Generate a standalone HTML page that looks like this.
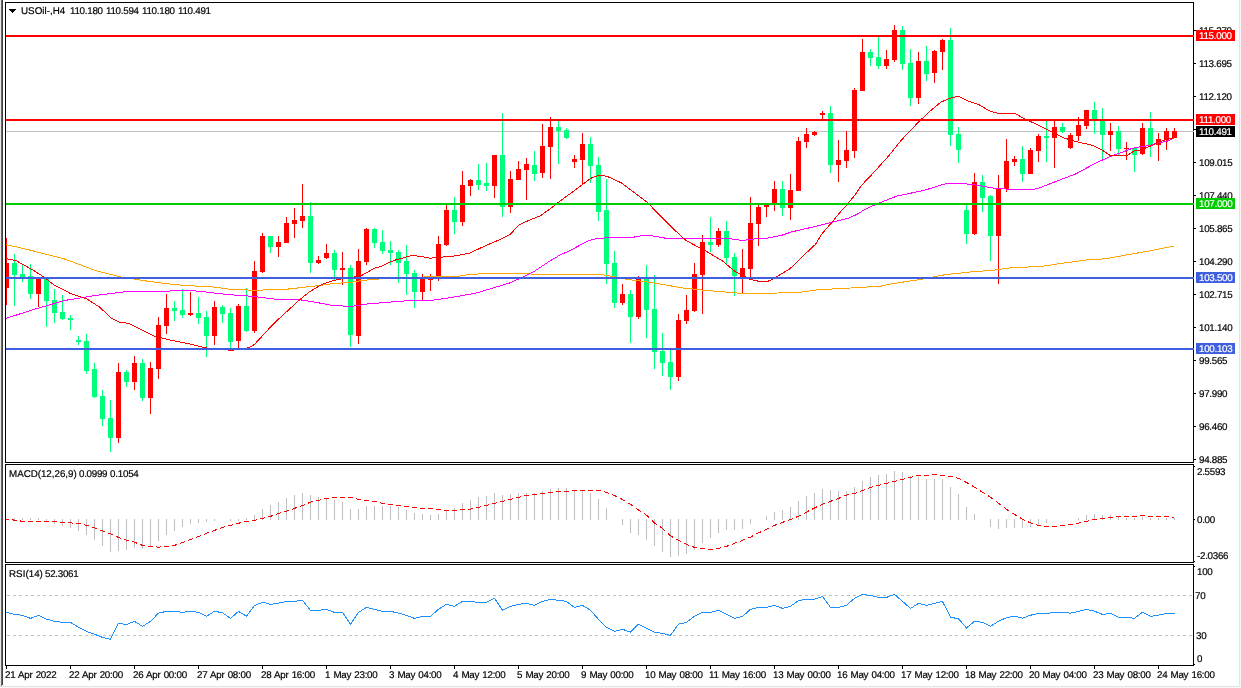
<!DOCTYPE html>
<html><head><meta charset="utf-8"><title>USOil H4</title>
<style>
html,body{margin:0;padding:0;background:#fff;}
body{width:1241px;height:688px;position:relative;overflow:hidden;font-family:"Liberation Sans",sans-serif;}
svg{position:absolute;left:0;top:0;}
#tx{position:absolute;left:0;top:0;width:1241px;height:688px;will-change:transform;}
.t{position:absolute;font-size:9.8px;line-height:12px;white-space:nowrap;color:#000;letter-spacing:-0.28px;transform-origin:0 0;transform:rotate(0.03deg);-webkit-text-stroke:0.2px #000;}
.tl{word-spacing:0.8px;}
.b{position:absolute;left:1196px;width:39px;height:11px;color:#fff;font-size:9.8px;line-height:11px;white-space:nowrap;text-indent:3px;letter-spacing:-0.28px;}
.b span{display:block;-webkit-text-stroke:0.2px #fff;transform-origin:0 0;transform:rotate(0.03deg);}
</style></head><body>
<svg width="1241" height="688" viewBox="0 0 1241 688" shape-rendering="crispEdges">
<defs>
<clipPath id="cm"><rect x="6" y="3" width="1187" height="459"/></clipPath>
<clipPath id="c2"><rect x="6" y="465" width="1187" height="97"/></clipPath>
<clipPath id="cd"><rect x="4" y="465" width="5" height="97"/><rect x="12" y="465" width="5" height="97"/><rect x="20" y="465" width="5" height="97"/><rect x="28" y="465" width="5" height="97"/><rect x="36" y="465" width="5" height="97"/><rect x="44" y="465" width="5" height="97"/><rect x="52" y="465" width="5" height="97"/><rect x="60" y="465" width="5" height="97"/><rect x="68" y="465" width="5" height="97"/><rect x="76" y="465" width="5" height="97"/><rect x="84" y="465" width="5" height="97"/><rect x="92" y="465" width="5" height="97"/><rect x="100" y="465" width="5" height="97"/><rect x="108" y="465" width="5" height="97"/><rect x="116" y="465" width="5" height="97"/><rect x="124" y="465" width="5" height="97"/><rect x="132" y="465" width="5" height="97"/><rect x="140" y="465" width="5" height="97"/><rect x="148" y="465" width="5" height="97"/><rect x="156" y="465" width="5" height="97"/><rect x="164" y="465" width="5" height="97"/><rect x="172" y="465" width="5" height="97"/><rect x="180" y="465" width="5" height="97"/><rect x="188" y="465" width="5" height="97"/><rect x="196" y="465" width="5" height="97"/><rect x="204" y="465" width="5" height="97"/><rect x="212" y="465" width="5" height="97"/><rect x="220" y="465" width="5" height="97"/><rect x="228" y="465" width="5" height="97"/><rect x="236" y="465" width="5" height="97"/><rect x="244" y="465" width="5" height="97"/><rect x="252" y="465" width="5" height="97"/><rect x="260" y="465" width="5" height="97"/><rect x="268" y="465" width="5" height="97"/><rect x="276" y="465" width="5" height="97"/><rect x="284" y="465" width="5" height="97"/><rect x="292" y="465" width="5" height="97"/><rect x="300" y="465" width="5" height="97"/><rect x="308" y="465" width="5" height="97"/><rect x="316" y="465" width="5" height="97"/><rect x="324" y="465" width="5" height="97"/><rect x="332" y="465" width="5" height="97"/><rect x="340" y="465" width="5" height="97"/><rect x="348" y="465" width="5" height="97"/><rect x="356" y="465" width="5" height="97"/><rect x="364" y="465" width="5" height="97"/><rect x="372" y="465" width="5" height="97"/><rect x="380" y="465" width="5" height="97"/><rect x="388" y="465" width="5" height="97"/><rect x="396" y="465" width="5" height="97"/><rect x="404" y="465" width="5" height="97"/><rect x="412" y="465" width="5" height="97"/><rect x="420" y="465" width="5" height="97"/><rect x="428" y="465" width="5" height="97"/><rect x="436" y="465" width="5" height="97"/><rect x="444" y="465" width="5" height="97"/><rect x="452" y="465" width="5" height="97"/><rect x="460" y="465" width="5" height="97"/><rect x="468" y="465" width="5" height="97"/><rect x="476" y="465" width="5" height="97"/><rect x="484" y="465" width="5" height="97"/><rect x="492" y="465" width="5" height="97"/><rect x="500" y="465" width="5" height="97"/><rect x="508" y="465" width="5" height="97"/><rect x="516" y="465" width="5" height="97"/><rect x="524" y="465" width="5" height="97"/><rect x="532" y="465" width="5" height="97"/><rect x="540" y="465" width="5" height="97"/><rect x="548" y="465" width="5" height="97"/><rect x="556" y="465" width="5" height="97"/><rect x="564" y="465" width="5" height="97"/><rect x="572" y="465" width="5" height="97"/><rect x="580" y="465" width="5" height="97"/><rect x="588" y="465" width="5" height="97"/><rect x="596" y="465" width="5" height="97"/><rect x="604" y="465" width="5" height="97"/><rect x="612" y="465" width="5" height="97"/><rect x="620" y="465" width="5" height="97"/><rect x="628" y="465" width="5" height="97"/><rect x="636" y="465" width="5" height="97"/><rect x="644" y="465" width="5" height="97"/><rect x="652" y="465" width="5" height="97"/><rect x="660" y="465" width="5" height="97"/><rect x="668" y="465" width="5" height="97"/><rect x="676" y="465" width="5" height="97"/><rect x="684" y="465" width="5" height="97"/><rect x="692" y="465" width="5" height="97"/><rect x="700" y="465" width="5" height="97"/><rect x="708" y="465" width="5" height="97"/><rect x="716" y="465" width="5" height="97"/><rect x="724" y="465" width="5" height="97"/><rect x="732" y="465" width="5" height="97"/><rect x="740" y="465" width="5" height="97"/><rect x="748" y="465" width="5" height="97"/><rect x="756" y="465" width="5" height="97"/><rect x="764" y="465" width="5" height="97"/><rect x="772" y="465" width="5" height="97"/><rect x="780" y="465" width="5" height="97"/><rect x="788" y="465" width="5" height="97"/><rect x="796" y="465" width="5" height="97"/><rect x="804" y="465" width="5" height="97"/><rect x="812" y="465" width="5" height="97"/><rect x="820" y="465" width="5" height="97"/><rect x="828" y="465" width="5" height="97"/><rect x="836" y="465" width="5" height="97"/><rect x="844" y="465" width="5" height="97"/><rect x="852" y="465" width="5" height="97"/><rect x="860" y="465" width="5" height="97"/><rect x="868" y="465" width="5" height="97"/><rect x="876" y="465" width="5" height="97"/><rect x="884" y="465" width="5" height="97"/><rect x="892" y="465" width="5" height="97"/><rect x="900" y="465" width="5" height="97"/><rect x="908" y="465" width="5" height="97"/><rect x="916" y="465" width="5" height="97"/><rect x="924" y="465" width="5" height="97"/><rect x="932" y="465" width="5" height="97"/><rect x="940" y="465" width="5" height="97"/><rect x="948" y="465" width="5" height="97"/><rect x="956" y="465" width="5" height="97"/><rect x="964" y="465" width="5" height="97"/><rect x="972" y="465" width="5" height="97"/><rect x="980" y="465" width="5" height="97"/><rect x="988" y="465" width="5" height="97"/><rect x="996" y="465" width="5" height="97"/><rect x="1004" y="465" width="5" height="97"/><rect x="1012" y="465" width="5" height="97"/><rect x="1020" y="465" width="5" height="97"/><rect x="1028" y="465" width="5" height="97"/><rect x="1036" y="465" width="5" height="97"/><rect x="1044" y="465" width="5" height="97"/><rect x="1052" y="465" width="5" height="97"/><rect x="1060" y="465" width="5" height="97"/><rect x="1068" y="465" width="5" height="97"/><rect x="1076" y="465" width="5" height="97"/><rect x="1084" y="465" width="5" height="97"/><rect x="1092" y="465" width="5" height="97"/><rect x="1100" y="465" width="5" height="97"/><rect x="1108" y="465" width="5" height="97"/><rect x="1116" y="465" width="5" height="97"/><rect x="1124" y="465" width="5" height="97"/><rect x="1132" y="465" width="5" height="97"/><rect x="1140" y="465" width="5" height="97"/><rect x="1148" y="465" width="5" height="97"/><rect x="1156" y="465" width="5" height="97"/><rect x="1164" y="465" width="5" height="97"/><rect x="1172" y="465" width="5" height="97"/><rect x="1180" y="465" width="5" height="97"/></clipPath>
<clipPath id="c3"><rect x="6" y="565" width="1187" height="100"/></clipPath>
</defs>
<rect x="0" y="0" width="1" height="688" fill="#e8e8e8"/>
<rect x="1" y="0" width="1" height="686" fill="#686868"/>
<rect x="2" y="0" width="1" height="685" fill="#404040"/>
<rect x="1239" y="0" width="1" height="688" fill="#e4e4e4"/>
<rect x="1240" y="0" width="1" height="688" fill="#f6f6f6"/>
<rect x="0" y="686" width="1241" height="1" fill="#e4e4e4"/>
<rect x="0" y="687" width="1241" height="1" fill="#f6f6f6"/>
<g clip-path="url(#cm)">
<rect x="6" y="131" width="1187" height="1" fill="#c0c0c0"/>
<rect x="6" y="238" width="1" height="67" fill="#FF0000"/>
<rect x="4" y="263" width="5" height="25" fill="#FF0000"/>
<rect x="14" y="254" width="1" height="52" fill="#00FF7A"/>
<rect x="12" y="263" width="5" height="12" fill="#00FF7A"/>
<rect x="22" y="264" width="1" height="18" fill="#00FF7A"/>
<rect x="20" y="274" width="5" height="4" fill="#00FF7A"/>
<rect x="30" y="264" width="1" height="35" fill="#00FF7A"/>
<rect x="28" y="276" width="5" height="18" fill="#00FF7A"/>
<rect x="38" y="278" width="1" height="29" fill="#FF0000"/>
<rect x="36" y="278" width="5" height="16" fill="#FF0000"/>
<rect x="46" y="278" width="1" height="49" fill="#00FF7A"/>
<rect x="44" y="278" width="5" height="23" fill="#00FF7A"/>
<rect x="54" y="289" width="1" height="34" fill="#00FF7A"/>
<rect x="52" y="300" width="5" height="13" fill="#00FF7A"/>
<rect x="62" y="295" width="1" height="25" fill="#00FF7A"/>
<rect x="60" y="312" width="5" height="7" fill="#00FF7A"/>
<rect x="70" y="315" width="1" height="15" fill="#00FF7A"/>
<rect x="68" y="318" width="5" height="2" fill="#00FF7A"/>
<rect x="78" y="336" width="1" height="9" fill="#00FF7A"/>
<rect x="76" y="340" width="5" height="2" fill="#00FF7A"/>
<rect x="86" y="334" width="1" height="40" fill="#00FF7A"/>
<rect x="84" y="341" width="5" height="30" fill="#00FF7A"/>
<rect x="94" y="363" width="1" height="35" fill="#00FF7A"/>
<rect x="92" y="369" width="5" height="28" fill="#00FF7A"/>
<rect x="102" y="390" width="1" height="36" fill="#00FF7A"/>
<rect x="100" y="396" width="5" height="23" fill="#00FF7A"/>
<rect x="110" y="400" width="1" height="52" fill="#00FF7A"/>
<rect x="108" y="418" width="5" height="20" fill="#00FF7A"/>
<rect x="118" y="363" width="1" height="80" fill="#FF0000"/>
<rect x="116" y="372" width="5" height="66" fill="#FF0000"/>
<rect x="126" y="370" width="1" height="17" fill="#00FF7A"/>
<rect x="124" y="372" width="5" height="10" fill="#00FF7A"/>
<rect x="134" y="356" width="1" height="34" fill="#FF0000"/>
<rect x="132" y="363" width="5" height="19" fill="#FF0000"/>
<rect x="142" y="359" width="1" height="42" fill="#00FF7A"/>
<rect x="140" y="363" width="5" height="35" fill="#00FF7A"/>
<rect x="150" y="362" width="1" height="52" fill="#FF0000"/>
<rect x="148" y="368" width="5" height="30" fill="#FF0000"/>
<rect x="158" y="317" width="1" height="62" fill="#FF0000"/>
<rect x="156" y="325" width="5" height="44" fill="#FF0000"/>
<rect x="166" y="294" width="1" height="40" fill="#FF0000"/>
<rect x="164" y="308" width="5" height="18" fill="#FF0000"/>
<rect x="174" y="301" width="1" height="20" fill="#00FF7A"/>
<rect x="172" y="308" width="5" height="3" fill="#00FF7A"/>
<rect x="182" y="289" width="1" height="29" fill="#00FF7A"/>
<rect x="180" y="310" width="5" height="5" fill="#00FF7A"/>
<rect x="190" y="292" width="1" height="24" fill="#FF0000"/>
<rect x="188" y="313" width="5" height="2" fill="#FF0000"/>
<rect x="198" y="297" width="1" height="27" fill="#00FF7A"/>
<rect x="196" y="313" width="5" height="5" fill="#00FF7A"/>
<rect x="206" y="311" width="1" height="46" fill="#00FF7A"/>
<rect x="204" y="317" width="5" height="19" fill="#00FF7A"/>
<rect x="214" y="301" width="1" height="44" fill="#FF0000"/>
<rect x="212" y="307" width="5" height="29" fill="#FF0000"/>
<rect x="222" y="305" width="1" height="18" fill="#00FF7A"/>
<rect x="220" y="307" width="5" height="7" fill="#00FF7A"/>
<rect x="230" y="308" width="1" height="40" fill="#00FF7A"/>
<rect x="228" y="313" width="5" height="29" fill="#00FF7A"/>
<rect x="238" y="304" width="1" height="44" fill="#FF0000"/>
<rect x="236" y="306" width="5" height="35" fill="#FF0000"/>
<rect x="246" y="288" width="1" height="44" fill="#00FF7A"/>
<rect x="244" y="306" width="5" height="25" fill="#00FF7A"/>
<rect x="254" y="261" width="1" height="72" fill="#FF0000"/>
<rect x="252" y="271" width="5" height="60" fill="#FF0000"/>
<rect x="262" y="233" width="1" height="40" fill="#FF0000"/>
<rect x="260" y="236" width="5" height="36" fill="#FF0000"/>
<rect x="270" y="236" width="1" height="17" fill="#00FF7A"/>
<rect x="268" y="236" width="5" height="11" fill="#00FF7A"/>
<rect x="278" y="236" width="1" height="21" fill="#FF0000"/>
<rect x="276" y="242" width="5" height="5" fill="#FF0000"/>
<rect x="286" y="217" width="1" height="26" fill="#FF0000"/>
<rect x="284" y="223" width="5" height="20" fill="#FF0000"/>
<rect x="294" y="208" width="1" height="30" fill="#FF0000"/>
<rect x="292" y="220" width="5" height="4" fill="#FF0000"/>
<rect x="302" y="184" width="1" height="44" fill="#FF0000"/>
<rect x="300" y="216" width="5" height="5" fill="#FF0000"/>
<rect x="310" y="202" width="1" height="71" fill="#00FF7A"/>
<rect x="308" y="216" width="5" height="47" fill="#00FF7A"/>
<rect x="318" y="256" width="1" height="8" fill="#FF0000"/>
<rect x="316" y="260" width="5" height="3" fill="#FF0000"/>
<rect x="326" y="244" width="1" height="15" fill="#FF0000"/>
<rect x="324" y="253" width="5" height="5" fill="#FF0000"/>
<rect x="334" y="250" width="1" height="30" fill="#00FF7A"/>
<rect x="332" y="253" width="5" height="17" fill="#00FF7A"/>
<rect x="342" y="252" width="1" height="33" fill="#FF0000"/>
<rect x="340" y="268" width="5" height="2" fill="#FF0000"/>
<rect x="350" y="265" width="1" height="82" fill="#00FF7A"/>
<rect x="348" y="268" width="5" height="67" fill="#00FF7A"/>
<rect x="358" y="249" width="1" height="95" fill="#FF0000"/>
<rect x="356" y="261" width="5" height="75" fill="#FF0000"/>
<rect x="366" y="228" width="1" height="37" fill="#FF0000"/>
<rect x="364" y="229" width="5" height="33" fill="#FF0000"/>
<rect x="374" y="228" width="1" height="20" fill="#00FF7A"/>
<rect x="372" y="229" width="5" height="14" fill="#00FF7A"/>
<rect x="382" y="230" width="1" height="24" fill="#00FF7A"/>
<rect x="380" y="242" width="5" height="9" fill="#00FF7A"/>
<rect x="390" y="241" width="1" height="24" fill="#00FF7A"/>
<rect x="388" y="250" width="5" height="3" fill="#00FF7A"/>
<rect x="398" y="250" width="1" height="33" fill="#00FF7A"/>
<rect x="396" y="252" width="5" height="11" fill="#00FF7A"/>
<rect x="406" y="245" width="1" height="50" fill="#00FF7A"/>
<rect x="404" y="261" width="5" height="13" fill="#00FF7A"/>
<rect x="414" y="270" width="1" height="38" fill="#00FF7A"/>
<rect x="412" y="273" width="5" height="19" fill="#00FF7A"/>
<rect x="422" y="274" width="1" height="26" fill="#FF0000"/>
<rect x="420" y="278" width="5" height="14" fill="#FF0000"/>
<rect x="430" y="274" width="1" height="17" fill="#FF0000"/>
<rect x="428" y="278" width="5" height="2" fill="#FF0000"/>
<rect x="438" y="236" width="1" height="45" fill="#FF0000"/>
<rect x="436" y="244" width="5" height="34" fill="#FF0000"/>
<rect x="446" y="204" width="1" height="42" fill="#FF0000"/>
<rect x="444" y="210" width="5" height="35" fill="#FF0000"/>
<rect x="454" y="197" width="1" height="37" fill="#00FF7A"/>
<rect x="452" y="210" width="5" height="12" fill="#00FF7A"/>
<rect x="462" y="171" width="1" height="55" fill="#FF0000"/>
<rect x="460" y="185" width="5" height="37" fill="#FF0000"/>
<rect x="470" y="179" width="1" height="17" fill="#FF0000"/>
<rect x="468" y="180" width="5" height="6" fill="#FF0000"/>
<rect x="478" y="164" width="1" height="26" fill="#00FF7A"/>
<rect x="476" y="180" width="5" height="5" fill="#00FF7A"/>
<rect x="486" y="163" width="1" height="28" fill="#00FF7A"/>
<rect x="484" y="183" width="5" height="3" fill="#00FF7A"/>
<rect x="494" y="155" width="1" height="43" fill="#FF0000"/>
<rect x="492" y="155" width="5" height="31" fill="#FF0000"/>
<rect x="502" y="113" width="1" height="104" fill="#00FF7A"/>
<rect x="500" y="155" width="5" height="52" fill="#00FF7A"/>
<rect x="510" y="171" width="1" height="42" fill="#FF0000"/>
<rect x="508" y="179" width="5" height="28" fill="#FF0000"/>
<rect x="518" y="161" width="1" height="19" fill="#FF0000"/>
<rect x="516" y="169" width="5" height="11" fill="#FF0000"/>
<rect x="526" y="158" width="1" height="42" fill="#FF0000"/>
<rect x="524" y="164" width="5" height="6" fill="#FF0000"/>
<rect x="534" y="151" width="1" height="30" fill="#00FF7A"/>
<rect x="532" y="165" width="5" height="9" fill="#00FF7A"/>
<rect x="542" y="124" width="1" height="54" fill="#FF0000"/>
<rect x="540" y="146" width="5" height="27" fill="#FF0000"/>
<rect x="550" y="117" width="1" height="62" fill="#FF0000"/>
<rect x="548" y="127" width="5" height="20" fill="#FF0000"/>
<rect x="558" y="121" width="1" height="43" fill="#00FF7A"/>
<rect x="556" y="127" width="5" height="4" fill="#00FF7A"/>
<rect x="566" y="128" width="1" height="11" fill="#00FF7A"/>
<rect x="564" y="130" width="5" height="8" fill="#00FF7A"/>
<rect x="574" y="155" width="1" height="13" fill="#FF0000"/>
<rect x="572" y="159" width="5" height="3" fill="#FF0000"/>
<rect x="582" y="133" width="1" height="52" fill="#FF0000"/>
<rect x="580" y="144" width="5" height="16" fill="#FF0000"/>
<rect x="590" y="137" width="1" height="46" fill="#00FF7A"/>
<rect x="588" y="144" width="5" height="22" fill="#00FF7A"/>
<rect x="598" y="157" width="1" height="64" fill="#00FF7A"/>
<rect x="596" y="165" width="5" height="47" fill="#00FF7A"/>
<rect x="606" y="179" width="1" height="105" fill="#00FF7A"/>
<rect x="604" y="210" width="5" height="54" fill="#00FF7A"/>
<rect x="614" y="251" width="1" height="57" fill="#00FF7A"/>
<rect x="612" y="263" width="5" height="40" fill="#00FF7A"/>
<rect x="622" y="284" width="1" height="21" fill="#FF0000"/>
<rect x="620" y="294" width="5" height="9" fill="#FF0000"/>
<rect x="630" y="290" width="1" height="53" fill="#00FF7A"/>
<rect x="628" y="294" width="5" height="23" fill="#00FF7A"/>
<rect x="638" y="276" width="1" height="43" fill="#FF0000"/>
<rect x="636" y="278" width="5" height="39" fill="#FF0000"/>
<rect x="646" y="265" width="1" height="73" fill="#00FF7A"/>
<rect x="644" y="279" width="5" height="31" fill="#00FF7A"/>
<rect x="654" y="275" width="1" height="94" fill="#00FF7A"/>
<rect x="652" y="309" width="5" height="43" fill="#00FF7A"/>
<rect x="662" y="333" width="1" height="43" fill="#00FF7A"/>
<rect x="660" y="351" width="5" height="12" fill="#00FF7A"/>
<rect x="670" y="348" width="1" height="42" fill="#00FF7A"/>
<rect x="668" y="362" width="5" height="15" fill="#00FF7A"/>
<rect x="678" y="314" width="1" height="67" fill="#FF0000"/>
<rect x="676" y="320" width="5" height="57" fill="#FF0000"/>
<rect x="686" y="295" width="1" height="29" fill="#FF0000"/>
<rect x="684" y="310" width="5" height="11" fill="#FF0000"/>
<rect x="694" y="263" width="1" height="49" fill="#FF0000"/>
<rect x="692" y="274" width="5" height="37" fill="#FF0000"/>
<rect x="702" y="235" width="1" height="79" fill="#FF0000"/>
<rect x="700" y="242" width="5" height="33" fill="#FF0000"/>
<rect x="710" y="217" width="1" height="35" fill="#00FF7A"/>
<rect x="708" y="242" width="5" height="3" fill="#00FF7A"/>
<rect x="718" y="228" width="1" height="19" fill="#FF0000"/>
<rect x="716" y="231" width="5" height="14" fill="#FF0000"/>
<rect x="726" y="221" width="1" height="43" fill="#00FF7A"/>
<rect x="724" y="231" width="5" height="27" fill="#00FF7A"/>
<rect x="734" y="253" width="1" height="43" fill="#00FF7A"/>
<rect x="732" y="257" width="5" height="19" fill="#00FF7A"/>
<rect x="742" y="249" width="1" height="45" fill="#FF0000"/>
<rect x="740" y="268" width="5" height="9" fill="#FF0000"/>
<rect x="750" y="197" width="1" height="82" fill="#FF0000"/>
<rect x="748" y="223" width="5" height="46" fill="#FF0000"/>
<rect x="758" y="205" width="1" height="41" fill="#FF0000"/>
<rect x="756" y="207" width="5" height="17" fill="#FF0000"/>
<rect x="766" y="204" width="1" height="13" fill="#FF0000"/>
<rect x="764" y="204" width="5" height="3" fill="#FF0000"/>
<rect x="774" y="181" width="1" height="30" fill="#FF0000"/>
<rect x="772" y="189" width="5" height="16" fill="#FF0000"/>
<rect x="782" y="181" width="1" height="35" fill="#00FF7A"/>
<rect x="780" y="189" width="5" height="19" fill="#00FF7A"/>
<rect x="790" y="174" width="1" height="46" fill="#FF0000"/>
<rect x="788" y="190" width="5" height="18" fill="#FF0000"/>
<rect x="798" y="137" width="1" height="54" fill="#FF0000"/>
<rect x="796" y="141" width="5" height="50" fill="#FF0000"/>
<rect x="806" y="128" width="1" height="20" fill="#FF0000"/>
<rect x="804" y="134" width="5" height="8" fill="#FF0000"/>
<rect x="814" y="131" width="1" height="5" fill="#FF0000"/>
<rect x="812" y="132" width="5" height="3" fill="#FF0000"/>
<rect x="822" y="111" width="1" height="8" fill="#FF0000"/>
<rect x="820" y="113" width="5" height="2" fill="#FF0000"/>
<rect x="830" y="106" width="1" height="67" fill="#00FF7A"/>
<rect x="828" y="113" width="5" height="52" fill="#00FF7A"/>
<rect x="838" y="140" width="1" height="42" fill="#FF0000"/>
<rect x="836" y="160" width="5" height="5" fill="#FF0000"/>
<rect x="846" y="131" width="1" height="37" fill="#FF0000"/>
<rect x="844" y="150" width="5" height="11" fill="#FF0000"/>
<rect x="854" y="88" width="1" height="70" fill="#FF0000"/>
<rect x="852" y="90" width="5" height="61" fill="#FF0000"/>
<rect x="862" y="39" width="1" height="52" fill="#FF0000"/>
<rect x="860" y="52" width="5" height="39" fill="#FF0000"/>
<rect x="870" y="49" width="1" height="17" fill="#00FF7A"/>
<rect x="868" y="52" width="5" height="6" fill="#00FF7A"/>
<rect x="878" y="37" width="1" height="32" fill="#00FF7A"/>
<rect x="876" y="57" width="5" height="9" fill="#00FF7A"/>
<rect x="886" y="50" width="1" height="19" fill="#FF0000"/>
<rect x="884" y="59" width="5" height="7" fill="#FF0000"/>
<rect x="894" y="25" width="1" height="37" fill="#FF0000"/>
<rect x="892" y="30" width="5" height="30" fill="#FF0000"/>
<rect x="902" y="26" width="1" height="44" fill="#00FF7A"/>
<rect x="900" y="30" width="5" height="34" fill="#00FF7A"/>
<rect x="910" y="49" width="1" height="57" fill="#00FF7A"/>
<rect x="908" y="63" width="5" height="35" fill="#00FF7A"/>
<rect x="918" y="52" width="1" height="52" fill="#FF0000"/>
<rect x="916" y="61" width="5" height="37" fill="#FF0000"/>
<rect x="926" y="46" width="1" height="35" fill="#00FF7A"/>
<rect x="924" y="61" width="5" height="13" fill="#00FF7A"/>
<rect x="934" y="50" width="1" height="33" fill="#FF0000"/>
<rect x="932" y="51" width="5" height="22" fill="#FF0000"/>
<rect x="942" y="39" width="1" height="31" fill="#FF0000"/>
<rect x="940" y="40" width="5" height="12" fill="#FF0000"/>
<rect x="950" y="28" width="1" height="118" fill="#00FF7A"/>
<rect x="948" y="40" width="5" height="95" fill="#00FF7A"/>
<rect x="958" y="127" width="1" height="36" fill="#00FF7A"/>
<rect x="956" y="134" width="5" height="16" fill="#00FF7A"/>
<rect x="966" y="204" width="1" height="40" fill="#00FF7A"/>
<rect x="964" y="210" width="5" height="24" fill="#00FF7A"/>
<rect x="974" y="173" width="1" height="62" fill="#FF0000"/>
<rect x="972" y="182" width="5" height="52" fill="#FF0000"/>
<rect x="982" y="175" width="1" height="37" fill="#00FF7A"/>
<rect x="980" y="182" width="5" height="16" fill="#00FF7A"/>
<rect x="990" y="195" width="1" height="66" fill="#00FF7A"/>
<rect x="988" y="196" width="5" height="40" fill="#00FF7A"/>
<rect x="998" y="175" width="1" height="109" fill="#FF0000"/>
<rect x="996" y="189" width="5" height="47" fill="#FF0000"/>
<rect x="1006" y="139" width="1" height="53" fill="#FF0000"/>
<rect x="1004" y="161" width="5" height="28" fill="#FF0000"/>
<rect x="1014" y="156" width="1" height="10" fill="#FF0000"/>
<rect x="1012" y="159" width="5" height="3" fill="#FF0000"/>
<rect x="1022" y="146" width="1" height="36" fill="#00FF7A"/>
<rect x="1020" y="159" width="5" height="15" fill="#00FF7A"/>
<rect x="1030" y="148" width="1" height="26" fill="#FF0000"/>
<rect x="1028" y="150" width="5" height="24" fill="#FF0000"/>
<rect x="1038" y="134" width="1" height="28" fill="#FF0000"/>
<rect x="1036" y="136" width="5" height="15" fill="#FF0000"/>
<rect x="1046" y="121" width="1" height="41" fill="#00FF7A"/>
<rect x="1044" y="136" width="5" height="2" fill="#00FF7A"/>
<rect x="1054" y="121" width="1" height="47" fill="#FF0000"/>
<rect x="1052" y="127" width="5" height="11" fill="#FF0000"/>
<rect x="1062" y="123" width="1" height="10" fill="#00FF7A"/>
<rect x="1060" y="127" width="5" height="5" fill="#00FF7A"/>
<rect x="1070" y="133" width="1" height="16" fill="#FF0000"/>
<rect x="1068" y="135" width="5" height="13" fill="#FF0000"/>
<rect x="1078" y="117" width="1" height="24" fill="#FF0000"/>
<rect x="1076" y="125" width="5" height="11" fill="#FF0000"/>
<rect x="1086" y="110" width="1" height="19" fill="#FF0000"/>
<rect x="1084" y="110" width="5" height="16" fill="#FF0000"/>
<rect x="1094" y="102" width="1" height="32" fill="#00FF7A"/>
<rect x="1092" y="110" width="5" height="11" fill="#00FF7A"/>
<rect x="1102" y="108" width="1" height="52" fill="#00FF7A"/>
<rect x="1100" y="120" width="5" height="15" fill="#00FF7A"/>
<rect x="1110" y="123" width="1" height="28" fill="#FF0000"/>
<rect x="1108" y="131" width="5" height="4" fill="#FF0000"/>
<rect x="1118" y="126" width="1" height="29" fill="#00FF7A"/>
<rect x="1116" y="131" width="5" height="18" fill="#00FF7A"/>
<rect x="1126" y="142" width="1" height="18" fill="#FF0000"/>
<rect x="1124" y="148" width="5" height="1" fill="#FF0000"/>
<rect x="1134" y="147" width="1" height="25" fill="#00FF7A"/>
<rect x="1132" y="148" width="5" height="7" fill="#00FF7A"/>
<rect x="1142" y="123" width="1" height="32" fill="#FF0000"/>
<rect x="1140" y="128" width="5" height="26" fill="#FF0000"/>
<rect x="1150" y="112" width="1" height="45" fill="#00FF7A"/>
<rect x="1148" y="128" width="5" height="17" fill="#00FF7A"/>
<rect x="1158" y="133" width="1" height="28" fill="#FF0000"/>
<rect x="1156" y="139" width="5" height="6" fill="#FF0000"/>
<rect x="1166" y="128" width="1" height="22" fill="#FF0000"/>
<rect x="1164" y="131" width="5" height="9" fill="#FF0000"/>
<rect x="1174" y="128" width="1" height="10" fill="#FF0000"/>
<rect x="1172" y="131" width="5" height="7" fill="#FF0000"/>
</g>
<g clip-path="url(#cm)">
<polyline points="6,244.5 32,250.6 64.5,259 96.8,271 121,277 145,280.8 161,283 177,284.8 200,286.3 211,286.8 230,289.2 254.5,290.3 286.8,289.2 303,287.4 319,285.5 335,283.4 351,282.3 360.6,280.8 369.7,279.7 378,279.3 382,278.3 422,277.5 426,276.4 457.3,276.4 465.7,275 481.8,273.7 500,273.3 530,273.5 533,274.7 580,274.7 602,274.7 612,276.3 628,279.5 650.6,282.4 683,288 707,290.5 739,293.2 770,293.4 777.7,293 800,292.3 818,289.8 840.6,288.5 856.8,287.7 881,286.1 894,283.4 921.3,279.4 937.4,276.1 947,274.4 960,273.2 966,272.3 993.5,270.2 1011.3,267.7 1040.3,266.5 1063,263.2 1090.3,259.4 1104.8,258.9 1127.4,254.8 1150,250.8 1174,246" fill="none" stroke="#FFA500" stroke-width="1" />
<polyline points="6,318.4 32,310 64.5,300.5 96.8,295.3 129,291.3 161,291.8 182,290 200,291.3 211,292.7 230,294.7 254.5,296.5 275.5,299.2 299.7,299.7 319,302.9 332,305.3 351,306.5 367.4,304 390,302.1 396,301.5 412,300.5 433,300.2 452.6,297.3 476.8,292.9 493,288 509,283.2 522,277.6 534.8,271 549,261.5 560.6,254.7 570,250.6 579.7,245.3 589.4,240.5 597.4,238.4 610,237.6 633,237.3 644,235.2 650.6,235.6 666.8,238.4 699,238.4 731,238.9 742.6,240.5 750.6,239.2 767,238.2 782.6,235 792,231.8 811.6,227.3 832.6,222.1 848,218.4 856.8,214.4 864.8,209.5 874.5,205 881,202.3 897,196 921.3,191 934.2,187.4 942,184.5 948.7,183.4 963,183.5 979,185.5 995,188.4 1014.5,189.5 1033.9,189.2 1040.3,187.6 1054.8,181.9 1075.8,173.9 1095,163.4 1111.3,156.1 1121.6,152.5 1131.3,148.7 1138,147.2 1147.7,145.8 1156.4,143.4 1167,141.2 1174.3,138" fill="none" stroke="#FF00FF" stroke-width="1" />
<polyline points="6,258.7 16,260.6 32,269.5 43.5,276.8 55,285.6 71,293.7 87,299 100,307.4 111,318 119,322 129,323.5 140,329 155,336.5 172.6,340.5 190,343.9 204.5,347.6 215,349.5 228,350 234,350 243,349 249,347.6 254.5,344.4 273.9,323.4 282.7,315.3 299.7,299.7 309.4,291.9 322,284.4 332,281 340.8,279 351,277.5 361,275.8 375.5,267.7 380,266.8 390,262 396,259.8 412,255.5 420.3,256.3 430,258.2 444.5,256.9 455.8,255.8 470,253 484.8,246 502.6,238.4 510.6,234 518.7,225 525,222 541,215.5 554,205.8 557.4,203 570,193.8 582,185 591,178.2 599,175.3 607,176.3 621.6,183 634.5,192.7 647.4,202.4 660.3,216 673,228.6 686,240.5 697.4,246.6 708.7,252.6 723.2,261.5 734.5,271.1 741,274.7 750.6,279.5 760.3,281.6 767,281.6 773,279.2 777,276.5 789.8,268.9 802.7,256.3 815.6,244.2 822,233.7 832.6,221.6 839,213.5 848,203.5 855,195 861.6,185.3 874.5,171.6 889,155.5 902,139.4 910,131 919.7,120.8 922.9,117.9 931,110.3 940.6,102.3 948.7,98.7 958,96.1 967.7,101 979,104.8 990.3,111.3 998.4,113.4 1015.3,113.4 1024,118.7 1033.9,123 1050,131 1063,137.6 1075.8,141.6 1092.6,145.3 1101.3,149.6 1110,155.4 1127.4,155.4 1134,150.9 1140,150.1 1147.7,147.2 1153.5,144.8 1160.3,141.4 1167,139.5 1174.3,137.6" fill="none" stroke="#FF0000" stroke-width="1" />
</g>
<rect x="6" y="35" width="1187" height="2" fill="#ff0000"/>
<rect x="6" y="119" width="1187" height="2" fill="#ff0000"/>
<rect x="6" y="203" width="1187" height="2" fill="#00cc00"/>
<rect x="6" y="277" width="1187" height="2" fill="#3f5fdf"/>
<rect x="6" y="348" width="1187" height="2" fill="#3f5fdf"/>
<g clip-path="url(#c2)">
<rect x="14" y="518" width="1" height="2" fill="#c0c0c0"/>
<rect x="22" y="518" width="1" height="2" fill="#c0c0c0"/>
<rect x="30" y="518" width="1" height="2" fill="#c0c0c0"/>
<rect x="38" y="518" width="1" height="2" fill="#c0c0c0"/>
<rect x="46" y="519" width="1" height="2" fill="#c0c0c0"/>
<rect x="54" y="519" width="1" height="5" fill="#c0c0c0"/>
<rect x="62" y="519" width="1" height="7" fill="#c0c0c0"/>
<rect x="70" y="519" width="1" height="9" fill="#c0c0c0"/>
<rect x="78" y="519" width="1" height="12" fill="#c0c0c0"/>
<rect x="86" y="519" width="1" height="16" fill="#c0c0c0"/>
<rect x="94" y="519" width="1" height="21" fill="#c0c0c0"/>
<rect x="102" y="519" width="1" height="27" fill="#c0c0c0"/>
<rect x="110" y="519" width="1" height="33" fill="#c0c0c0"/>
<rect x="118" y="519" width="1" height="32" fill="#c0c0c0"/>
<rect x="126" y="519" width="1" height="31" fill="#c0c0c0"/>
<rect x="134" y="519" width="1" height="29" fill="#c0c0c0"/>
<rect x="142" y="519" width="1" height="30" fill="#c0c0c0"/>
<rect x="150" y="519" width="1" height="28" fill="#c0c0c0"/>
<rect x="158" y="519" width="1" height="22" fill="#c0c0c0"/>
<rect x="166" y="519" width="1" height="16" fill="#c0c0c0"/>
<rect x="174" y="519" width="1" height="12" fill="#c0c0c0"/>
<rect x="182" y="519" width="1" height="8" fill="#c0c0c0"/>
<rect x="190" y="519" width="1" height="5" fill="#c0c0c0"/>
<rect x="198" y="519" width="1" height="4" fill="#c0c0c0"/>
<rect x="206" y="519" width="1" height="3" fill="#c0c0c0"/>
<rect x="214" y="519" width="1" height="2" fill="#c0c0c0"/>
<rect x="230" y="519" width="1" height="2" fill="#c0c0c0"/>
<rect x="238" y="519" width="1" height="2" fill="#c0c0c0"/>
<rect x="246" y="518" width="1" height="2" fill="#c0c0c0"/>
<rect x="254" y="515" width="1" height="5" fill="#c0c0c0"/>
<rect x="262" y="509" width="1" height="11" fill="#c0c0c0"/>
<rect x="270" y="505" width="1" height="15" fill="#c0c0c0"/>
<rect x="278" y="502" width="1" height="18" fill="#c0c0c0"/>
<rect x="286" y="498" width="1" height="22" fill="#c0c0c0"/>
<rect x="294" y="495" width="1" height="25" fill="#c0c0c0"/>
<rect x="302" y="493" width="1" height="27" fill="#c0c0c0"/>
<rect x="310" y="495" width="1" height="25" fill="#c0c0c0"/>
<rect x="318" y="497" width="1" height="23" fill="#c0c0c0"/>
<rect x="326" y="498" width="1" height="22" fill="#c0c0c0"/>
<rect x="334" y="500" width="1" height="20" fill="#c0c0c0"/>
<rect x="342" y="502" width="1" height="18" fill="#c0c0c0"/>
<rect x="350" y="509" width="1" height="11" fill="#c0c0c0"/>
<rect x="358" y="509" width="1" height="11" fill="#c0c0c0"/>
<rect x="366" y="506" width="1" height="14" fill="#c0c0c0"/>
<rect x="374" y="506" width="1" height="14" fill="#c0c0c0"/>
<rect x="382" y="506" width="1" height="14" fill="#c0c0c0"/>
<rect x="390" y="506" width="1" height="14" fill="#c0c0c0"/>
<rect x="398" y="507" width="1" height="13" fill="#c0c0c0"/>
<rect x="406" y="510" width="1" height="10" fill="#c0c0c0"/>
<rect x="414" y="513" width="1" height="7" fill="#c0c0c0"/>
<rect x="422" y="514" width="1" height="6" fill="#c0c0c0"/>
<rect x="430" y="515" width="1" height="5" fill="#c0c0c0"/>
<rect x="438" y="514" width="1" height="6" fill="#c0c0c0"/>
<rect x="446" y="511" width="1" height="9" fill="#c0c0c0"/>
<rect x="454" y="508" width="1" height="12" fill="#c0c0c0"/>
<rect x="462" y="503" width="1" height="17" fill="#c0c0c0"/>
<rect x="470" y="500" width="1" height="20" fill="#c0c0c0"/>
<rect x="478" y="497" width="1" height="23" fill="#c0c0c0"/>
<rect x="486" y="496" width="1" height="24" fill="#c0c0c0"/>
<rect x="494" y="493" width="1" height="27" fill="#c0c0c0"/>
<rect x="502" y="495" width="1" height="25" fill="#c0c0c0"/>
<rect x="510" y="494" width="1" height="26" fill="#c0c0c0"/>
<rect x="518" y="493" width="1" height="27" fill="#c0c0c0"/>
<rect x="526" y="493" width="1" height="27" fill="#c0c0c0"/>
<rect x="534" y="493" width="1" height="27" fill="#c0c0c0"/>
<rect x="542" y="491" width="1" height="29" fill="#c0c0c0"/>
<rect x="550" y="489" width="1" height="31" fill="#c0c0c0"/>
<rect x="558" y="488" width="1" height="32" fill="#c0c0c0"/>
<rect x="566" y="488" width="1" height="32" fill="#c0c0c0"/>
<rect x="574" y="490" width="1" height="30" fill="#c0c0c0"/>
<rect x="582" y="491" width="1" height="29" fill="#c0c0c0"/>
<rect x="590" y="493" width="1" height="27" fill="#c0c0c0"/>
<rect x="598" y="499" width="1" height="21" fill="#c0c0c0"/>
<rect x="606" y="508" width="1" height="12" fill="#c0c0c0"/>
<rect x="622" y="519" width="1" height="6" fill="#c0c0c0"/>
<rect x="630" y="519" width="1" height="14" fill="#c0c0c0"/>
<rect x="638" y="519" width="1" height="16" fill="#c0c0c0"/>
<rect x="646" y="519" width="1" height="21" fill="#c0c0c0"/>
<rect x="654" y="519" width="1" height="27" fill="#c0c0c0"/>
<rect x="662" y="519" width="1" height="33" fill="#c0c0c0"/>
<rect x="670" y="519" width="1" height="38" fill="#c0c0c0"/>
<rect x="678" y="519" width="1" height="37" fill="#c0c0c0"/>
<rect x="686" y="519" width="1" height="35" fill="#c0c0c0"/>
<rect x="694" y="519" width="1" height="31" fill="#c0c0c0"/>
<rect x="702" y="519" width="1" height="24" fill="#c0c0c0"/>
<rect x="710" y="519" width="1" height="19" fill="#c0c0c0"/>
<rect x="718" y="519" width="1" height="14" fill="#c0c0c0"/>
<rect x="726" y="519" width="1" height="11" fill="#c0c0c0"/>
<rect x="734" y="519" width="1" height="11" fill="#c0c0c0"/>
<rect x="742" y="519" width="1" height="10" fill="#c0c0c0"/>
<rect x="750" y="519" width="1" height="5" fill="#c0c0c0"/>
<rect x="766" y="516" width="1" height="4" fill="#c0c0c0"/>
<rect x="774" y="512" width="1" height="8" fill="#c0c0c0"/>
<rect x="782" y="510" width="1" height="10" fill="#c0c0c0"/>
<rect x="790" y="507" width="1" height="13" fill="#c0c0c0"/>
<rect x="798" y="501" width="1" height="19" fill="#c0c0c0"/>
<rect x="806" y="496" width="1" height="24" fill="#c0c0c0"/>
<rect x="814" y="493" width="1" height="27" fill="#c0c0c0"/>
<rect x="822" y="489" width="1" height="31" fill="#c0c0c0"/>
<rect x="830" y="490" width="1" height="30" fill="#c0c0c0"/>
<rect x="838" y="491" width="1" height="29" fill="#c0c0c0"/>
<rect x="846" y="491" width="1" height="29" fill="#c0c0c0"/>
<rect x="854" y="487" width="1" height="33" fill="#c0c0c0"/>
<rect x="862" y="481" width="1" height="39" fill="#c0c0c0"/>
<rect x="870" y="477" width="1" height="43" fill="#c0c0c0"/>
<rect x="878" y="475" width="1" height="45" fill="#c0c0c0"/>
<rect x="886" y="474" width="1" height="46" fill="#c0c0c0"/>
<rect x="894" y="471" width="1" height="49" fill="#c0c0c0"/>
<rect x="902" y="472" width="1" height="48" fill="#c0c0c0"/>
<rect x="910" y="476" width="1" height="44" fill="#c0c0c0"/>
<rect x="918" y="477" width="1" height="43" fill="#c0c0c0"/>
<rect x="926" y="479" width="1" height="41" fill="#c0c0c0"/>
<rect x="934" y="479" width="1" height="41" fill="#c0c0c0"/>
<rect x="942" y="479" width="1" height="41" fill="#c0c0c0"/>
<rect x="950" y="487" width="1" height="33" fill="#c0c0c0"/>
<rect x="958" y="494" width="1" height="26" fill="#c0c0c0"/>
<rect x="966" y="507" width="1" height="13" fill="#c0c0c0"/>
<rect x="974" y="514" width="1" height="6" fill="#c0c0c0"/>
<rect x="990" y="519" width="1" height="8" fill="#c0c0c0"/>
<rect x="998" y="519" width="1" height="10" fill="#c0c0c0"/>
<rect x="1006" y="519" width="1" height="9" fill="#c0c0c0"/>
<rect x="1014" y="519" width="1" height="9" fill="#c0c0c0"/>
<rect x="1022" y="519" width="1" height="9" fill="#c0c0c0"/>
<rect x="1030" y="519" width="1" height="8" fill="#c0c0c0"/>
<rect x="1038" y="519" width="1" height="6" fill="#c0c0c0"/>
<rect x="1046" y="519" width="1" height="4" fill="#c0c0c0"/>
<rect x="1078" y="518" width="1" height="2" fill="#c0c0c0"/>
<rect x="1086" y="515" width="1" height="5" fill="#c0c0c0"/>
<rect x="1094" y="514" width="1" height="6" fill="#c0c0c0"/>
<rect x="1102" y="515" width="1" height="5" fill="#c0c0c0"/>
<rect x="1110" y="515" width="1" height="5" fill="#c0c0c0"/>
<rect x="1118" y="517" width="1" height="3" fill="#c0c0c0"/>
<rect x="1126" y="518" width="1" height="2" fill="#c0c0c0"/>
<rect x="1134" y="518" width="1" height="2" fill="#c0c0c0"/>
<rect x="1142" y="517" width="1" height="3" fill="#c0c0c0"/>
<rect x="1150" y="518" width="1" height="2" fill="#c0c0c0"/>
<rect x="1158" y="518" width="1" height="2" fill="#c0c0c0"/>
<rect x="1166" y="518" width="1" height="2" fill="#c0c0c0"/>
<rect x="1174" y="518" width="1" height="2" fill="#c0c0c0"/>
</g>
<g clip-path="url(#cd)">
<polyline points="6.5,519.3 14.5,520.1 22.5,521.3 30.5,521.3 38.5,521.4 46.5,521.4 54.5,521.4 62.5,522.4 70.5,522.9 78.5,523.4 86.5,525.3 94.5,527.7 102.5,530.9 110.5,533.8 118.5,537.4 126.5,540.3 134.5,542.2 142.5,545.4 150.5,546.4 158.5,547.2 166.5,546.4 174.5,545.4 182.5,542.5 190.5,539.5 198.5,536.6 206.5,533.3 214.5,530.4 222.5,527.4 230.5,525.3 238.5,523.2 246.5,521.6 254.5,520.5 262.5,518.4 270.5,516.4 278.5,513.5 286.5,511.3 294.5,508.4 302.5,505.5 310.5,502.2 318.5,500.3 326.5,498.4 334.5,497.4 342.5,497.4 350.5,497.4 358.5,499.5 366.5,500.5 374.5,501.3 382.5,503.4 390.5,504.3 398.5,505.5 406.5,506.4 414.5,507.4 422.5,508.5 430.5,508.5 438.5,509.5 446.5,510.5 454.5,510.5 462.5,509.5 470.5,509.2 478.5,507.4 486.5,505.5 494.5,503.4 502.5,501.4 510.5,499.5 518.5,497.4 526.5,495.5 534.5,494.5 542.5,493.4 550.5,492.4 558.5,491.4 566.5,491.4 574.5,490.5 582.5,490.5 590.5,490.5 598.5,490.5 606.5,492.4 614.5,495.5 622.5,499.5 630.5,504.3 638.5,510 646.5,515.1 654.5,522.9 662.5,528.5 670.5,535.8 678.5,540.3 686.5,544.3 694.5,547.4 702.5,548.3 710.5,549.3 718.5,548.3 726.5,546.4 734.5,543.3 742.5,540.3 750.5,537.1 758.5,532.9 766.5,529.2 774.5,525.4 782.5,522.4 790.5,519.5 798.5,516.2 806.5,512.1 814.5,508 822.5,504.2 830.5,501.4 838.5,498.4 846.5,495.1 854.5,493.5 862.5,490.5 870.5,487.4 878.5,485.5 886.5,483.4 894.5,481.3 902.5,479.3 910.5,477.4 918.5,475.5 926.5,475.5 934.5,474.7 942.5,475.5 950.5,476.4 958.5,478.4 966.5,482.5 974.5,487.2 982.5,492.2 990.5,497.2 998.5,503.3 1006.5,509.3 1014.5,514.4 1022.5,519.3 1030.5,522.9 1038.5,525.4 1046.5,526.4 1054.5,526.4 1062.5,525.5 1070.5,524.7 1078.5,523.2 1086.5,521.3 1094.5,519.3 1102.5,518.4 1110.5,517.6 1118.5,516.7 1126.5,516.5 1134.5,516.5 1142.5,515.5 1150.5,516.4 1158.5,516.4 1166.5,516.5 1174.5,517.4" fill="none" stroke="#FF0000" stroke-width="1" />
</g>
<g clip-path="url(#c3)">
<line x1="7" x2="1193" y1="595.5" y2="595.5" stroke="#c0c0c0" stroke-width="1" stroke-dasharray="3 3"/>
<line x1="7" x2="1193" y1="635.5" y2="635.5" stroke="#c0c0c0" stroke-width="1" stroke-dasharray="3 3"/>
</g>
<g clip-path="url(#c3)">
<polyline points="6.5,612.4 14.5,614.3 22.5,615.3 30.5,618.4 38.5,615.3 46.5,619.2 54.5,621.3 62.5,622.4 70.5,622.4 78.5,627.2 86.5,631.4 94.5,634.2 102.5,637.4 110.5,639.3 118.5,623.4 126.5,624.5 134.5,621.4 142.5,626.4 150.5,621.3 158.5,613.2 166.5,611.3 174.5,611.3 182.5,612.4 190.5,611.3 198.5,612.4 206.5,616.3 214.5,611.3 222.5,612.7 230.5,618.4 238.5,611.3 246.5,616.3 254.5,605.6 262.5,602.2 270.5,604.3 278.5,603.2 286.5,601.4 294.5,601.4 302.5,600.3 310.5,610.3 318.5,610.3 326.5,609.3 334.5,612.4 342.5,612.4 350.5,624.2 358.5,612.4 366.5,607.4 374.5,609.3 382.5,611.3 390.5,611.3 398.5,613.2 406.5,615.3 414.5,618.4 422.5,616.4 430.5,616.4 438.5,609.2 446.5,604.3 454.5,606.3 462.5,601.4 470.5,601.4 478.5,602.4 486.5,602.4 494.5,598.4 502.5,610.3 510.5,606.3 518.5,604.3 526.5,603.4 534.5,605.3 542.5,601.4 550.5,599.3 558.5,600.3 566.5,601.4 574.5,607.4 582.5,605.3 590.5,610.3 598.5,619.3 606.5,627.2 614.5,631.3 622.5,629.3 630.5,632.2 638.5,624.2 646.5,628.2 654.5,632.2 662.5,633.3 670.5,635.3 678.5,624.2 686.5,622.4 694.5,616.3 702.5,612.4 710.5,612.4 718.5,610.3 726.5,614.3 734.5,618.4 742.5,616.4 750.5,609.3 758.5,607.4 766.5,607.4 774.5,605.3 782.5,608.4 790.5,606.3 798.5,600.6 806.5,599.3 814.5,599.3 822.5,596.3 830.5,607.4 838.5,607.4 846.5,605.3 854.5,598.4 862.5,594.3 870.5,595.5 878.5,597.4 886.5,597.4 894.5,594.3 902.5,601.4 910.5,608.4 918.5,603.4 926.5,605.3 934.5,603.4 942.5,601.4 950.5,617.2 958.5,618.8 966.5,627.9 974.5,621.3 982.5,622.3 990.5,626.3 998.5,621.3 1006.5,617.6 1014.5,616.2 1022.5,618.2 1030.5,615.2 1038.5,613.6 1046.5,613.6 1054.5,612.2 1062.5,612.2 1070.5,613.2 1078.5,611.4 1086.5,609.4 1094.5,611.2 1102.5,614.4 1110.5,613.4 1118.5,617.2 1126.5,617.2 1134.5,618.4 1142.5,612.2 1150.5,616.4 1158.5,615.2 1166.5,613.4 1174.5,613.4" fill="none" stroke="#1E90FF" stroke-width="1" />
</g>
<rect x="5" y="2" width="1189" height="1" fill="#000"/>
<rect x="5" y="462" width="1189" height="1" fill="#000"/>
<rect x="5" y="2" width="1" height="461" fill="#000"/>
<rect x="1193" y="2" width="1" height="461" fill="#000"/>
<rect x="5" y="464" width="1189" height="1" fill="#000"/>
<rect x="5" y="562" width="1189" height="1" fill="#000"/>
<rect x="5" y="464" width="1" height="99" fill="#000"/>
<rect x="1193" y="464" width="1" height="99" fill="#000"/>
<rect x="5" y="564" width="1189" height="1" fill="#000"/>
<rect x="5" y="665" width="1189" height="1" fill="#000"/>
<rect x="5" y="564" width="1" height="102" fill="#000"/>
<rect x="1193" y="564" width="1" height="102" fill="#000"/>
<rect x="1193" y="35" width="1" height="2" fill="#ff0000"/>
<rect x="1193" y="119" width="1" height="2" fill="#ff0000"/>
<rect x="1193" y="203" width="1" height="2" fill="#00cc00"/>
<rect x="1193" y="277" width="1" height="2" fill="#3f5fdf"/>
<rect x="1193" y="348" width="1" height="2" fill="#3f5fdf"/>
<rect x="1193" y="131" width="1" height="1" fill="#c0c0c0"/>
<rect x="1194" y="30" width="2" height="1" fill="#000"/>
<rect x="1194" y="63" width="2" height="1" fill="#000"/>
<rect x="1194" y="96" width="2" height="1" fill="#000"/>
<rect x="1194" y="129" width="2" height="1" fill="#000"/>
<rect x="1194" y="162" width="2" height="1" fill="#000"/>
<rect x="1194" y="195" width="2" height="1" fill="#000"/>
<rect x="1194" y="228" width="2" height="1" fill="#000"/>
<rect x="1194" y="261" width="2" height="1" fill="#000"/>
<rect x="1194" y="294" width="2" height="1" fill="#000"/>
<rect x="1194" y="327" width="2" height="1" fill="#000"/>
<rect x="1194" y="360" width="2" height="1" fill="#000"/>
<rect x="1194" y="393" width="2" height="1" fill="#000"/>
<rect x="1194" y="426" width="2" height="1" fill="#000"/>
<rect x="1194" y="459" width="2" height="1" fill="#000"/>
<rect x="1194" y="466" width="1" height="1" fill="#000"/>
<rect x="1194" y="519" width="1" height="1" fill="#000"/>
<rect x="1194" y="561" width="1" height="1" fill="#000"/>
<rect x="1194" y="566" width="1" height="1" fill="#000"/>
<rect x="1194" y="664" width="1" height="1" fill="#000"/>
<rect x="6" y="666" width="1" height="3" fill="#000"/>
<rect x="70" y="666" width="1" height="3" fill="#000"/>
<rect x="134" y="666" width="1" height="3" fill="#000"/>
<rect x="198" y="666" width="1" height="3" fill="#000"/>
<rect x="262" y="666" width="1" height="3" fill="#000"/>
<rect x="326" y="666" width="1" height="3" fill="#000"/>
<rect x="390" y="666" width="1" height="3" fill="#000"/>
<rect x="454" y="666" width="1" height="3" fill="#000"/>
<rect x="518" y="666" width="1" height="3" fill="#000"/>
<rect x="582" y="666" width="1" height="3" fill="#000"/>
<rect x="646" y="666" width="1" height="3" fill="#000"/>
<rect x="710" y="666" width="1" height="3" fill="#000"/>
<rect x="774" y="666" width="1" height="3" fill="#000"/>
<rect x="838" y="666" width="1" height="3" fill="#000"/>
<rect x="902" y="666" width="1" height="3" fill="#000"/>
<rect x="966" y="666" width="1" height="3" fill="#000"/>
<rect x="1030" y="666" width="1" height="3" fill="#000"/>
<rect x="1094" y="666" width="1" height="3" fill="#000"/>
<rect x="1158" y="666" width="1" height="3" fill="#000"/>
<path d="M9 9h7v1h-1v1h-1v1h-1v1h-1v-1h-1v-1h-1v-1h-1z" fill="#000"/>
</svg>
<div id="tx"><div class="t" style="left:1199px;top:25px;color:#000;">115.270</div>
<div class="t" style="left:1199px;top:58px;color:#000;">113.695</div>
<div class="t" style="left:1199px;top:91px;color:#000;">112.120</div>
<div class="t" style="left:1199px;top:124px;color:#000;">110.545</div>
<div class="t" style="left:1199px;top:157px;color:#000;">109.015</div>
<div class="t" style="left:1199px;top:190px;color:#000;">107.440</div>
<div class="t" style="left:1199px;top:223px;color:#000;">105.865</div>
<div class="t" style="left:1199px;top:256px;color:#000;">104.290</div>
<div class="t" style="left:1199px;top:289px;color:#000;">102.715</div>
<div class="t" style="left:1199px;top:322px;color:#000;">101.140</div>
<div class="t" style="left:1199px;top:355px;color:#000;">99.565</div>
<div class="t" style="left:1199px;top:388px;color:#000;">97.990</div>
<div class="t" style="left:1199px;top:421px;color:#000;">96.460</div>
<div class="t" style="left:1199px;top:454px;color:#000;">94.885</div>
<div class="b" style="top:30px;background:#ff0000"><span>115.000</span></div>
<div class="b" style="top:114px;background:#ff0000"><span>111.000</span></div>
<div class="b" style="top:126px;background:#000000"><span>110.491</span></div>
<div class="b" style="top:198px;background:#00cc00"><span>107.000</span></div>
<div class="b" style="top:272px;background:#3f5fdf"><span>103.500</span></div>
<div class="b" style="top:343px;background:#3f5fdf"><span>100.103</span></div>
<div class="t" style="left:1196.5px;top:466px;color:#000;">2.5593</div>
<div class="t" style="left:1196.5px;top:514px;color:#000;">0.00</div>
<div class="t" style="left:1196.5px;top:550px;color:#000;">-2.0366</div>
<div class="t" style="left:1197px;top:566px;color:#000;">100</div>
<div class="t" style="left:1195.3px;top:590px;color:#000;">70</div>
<div class="t" style="left:1195.6px;top:630px;color:#000;">30</div>
<div class="t" style="left:1197px;top:653px;color:#000;">0</div>
<div class="t" style="left:20.6px;top:5px;letter-spacing:0.02px">USOil-,H4</div>
<div class="t" style="left:70.3px;top:5px;letter-spacing:-0.28px">110.180</div>
<div class="t" style="left:106.3px;top:5px;letter-spacing:-0.28px">110.594</div>
<div class="t" style="left:142.3px;top:5px;letter-spacing:-0.28px">110.180</div>
<div class="t" style="left:178.3px;top:5px;letter-spacing:-0.28px">110.491</div>
<div class="t" style="left:9.3px;top:468px;letter-spacing:-0.03px">MACD(12,26,9)</div>
<div class="t" style="left:78.5px;top:468px;letter-spacing:-0.28px">0.0999</div>
<div class="t" style="left:109.5px;top:468px;letter-spacing:-0.23px">0.1054</div>
<div class="t" style="left:9.3px;top:568px;letter-spacing:0.02px">RSI(14)</div>
<div class="t" style="left:44.5px;top:568px;letter-spacing:-0.28px">52.3061</div>
<div class="t tl" style="left:4.7px;top:669px;color:#000;">21 Apr 2022</div>
<div class="t tl" style="left:68.7px;top:669px;color:#000;">22 Apr 20:00</div>
<div class="t tl" style="left:132.7px;top:669px;color:#000;">26 Apr 00:00</div>
<div class="t tl" style="left:196.7px;top:669px;color:#000;">27 Apr 08:00</div>
<div class="t tl" style="left:260.7px;top:669px;color:#000;">28 Apr 16:00</div>
<div class="t tl" style="left:324.7px;top:669px;color:#000;">1 May 23:00</div>
<div class="t tl" style="left:388.7px;top:669px;color:#000;">3 May 04:00</div>
<div class="t tl" style="left:452.7px;top:669px;color:#000;">4 May 12:00</div>
<div class="t tl" style="left:516.7px;top:669px;color:#000;">5 May 20:00</div>
<div class="t tl" style="left:580.7px;top:669px;color:#000;">9 May 00:00</div>
<div class="t tl" style="left:644.7px;top:669px;color:#000;">10 May 08:00</div>
<div class="t tl" style="left:708.7px;top:669px;color:#000;">11 May 16:00</div>
<div class="t tl" style="left:772.7px;top:669px;color:#000;">13 May 00:00</div>
<div class="t tl" style="left:836.7px;top:669px;color:#000;">16 May 04:00</div>
<div class="t tl" style="left:900.7px;top:669px;color:#000;">17 May 12:00</div>
<div class="t tl" style="left:964.7px;top:669px;color:#000;">18 May 22:00</div>
<div class="t tl" style="left:1028.7px;top:669px;color:#000;">20 May 04:00</div>
<div class="t tl" style="left:1092.7px;top:669px;color:#000;">23 May 08:00</div>
<div class="t tl" style="left:1156.7px;top:669px;color:#000;">24 May 16:00</div></div>
</body></html>
